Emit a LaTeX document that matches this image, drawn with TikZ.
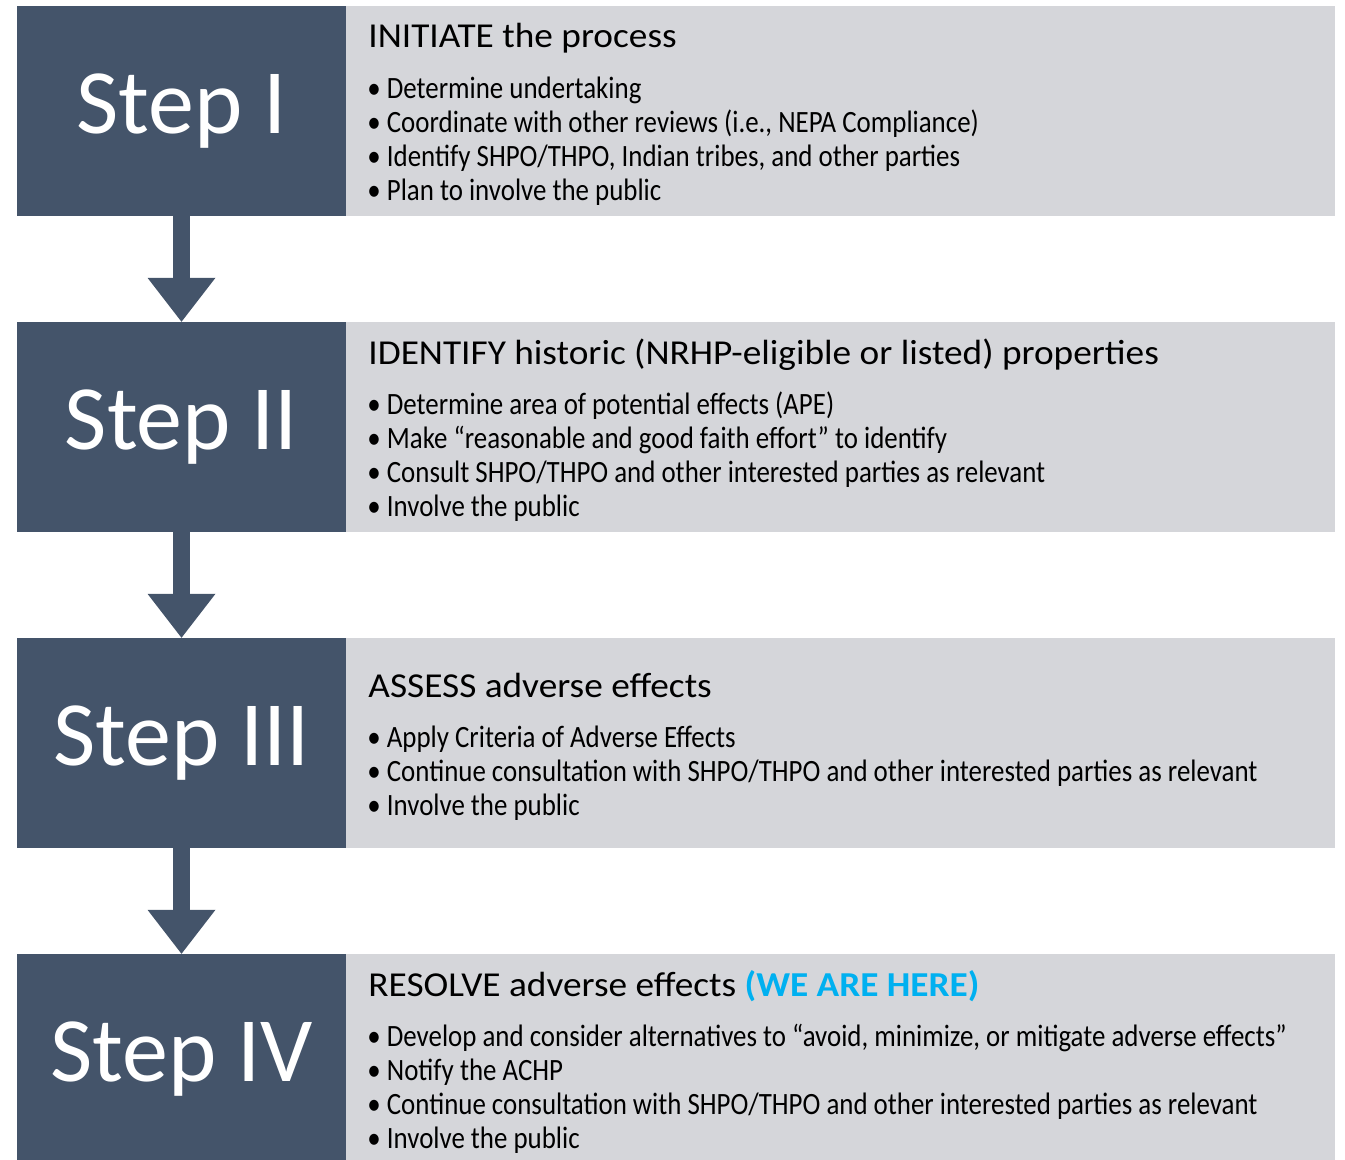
\documentclass[tikz,border=0pt]{standalone}
\usepackage{fontspec}
\setmainfont{Carlito}
\newfontfamily\titlefont[FakeStretch=1.066]{Carlito}
\newfontfamily\itemfont[FakeStretch=0.868]{Carlito}
\usetikzlibrary{positioning,arrows.meta}

\definecolor{stepblue}{HTML}{44546A}
\definecolor{infogray}{HTML}{D5D6DA}
\definecolor{herecyan}{HTML}{00B0F0}

\begin{document}
\begin{tikzpicture}[x=1pt,y=1pt]
  \tikzstyle{stepbox}=[fill=stepblue, text=white, inner sep=0pt,
    minimum width=329pt, minimum height=210pt, font=\fontsize{92}{92}\selectfont]
  \tikzstyle{infobox}=[fill=infogray, inner sep=0pt,
    minimum width=989pt, minimum height=210pt]
  \tikzstyle{title}=[anchor=base west, inner sep=0pt, font=\titlefont\fontsize{35}{35}\selectfont]
  \tikzstyle{item}=[anchor=base west, inner sep=0pt, font=\itemfont\fontsize{31}{31}\selectfont]
  \tikzstyle{flow}=[stepblue, line width=17pt,
    -{Triangle[width=68pt,length=44pt,line width=0pt]}]
  \useasboundingbox (0,0) rectangle (1345,1160);

  % step boxes
  \node[stepbox] (step1) at (181.5,1049) {Step I};
  \node[stepbox] (step2) at (181.5,733) {Step II};
  \node[stepbox] (step3) at (181.5,417) {Step III};
  \node[stepbox] (step4) at (181.5,101) {Step IV};

  % info boxes
  \node[infobox, right=0pt of step1] (info1) {};
  \node[infobox, right=0pt of step2] (info2) {};
  \node[infobox, right=0pt of step3] (info3) {};
  \node[infobox, right=0pt of step4] (info4) {};

  % arrows
  \draw[flow] (step1) -- (step2);
  \draw[flow] (step2) -- (step3);
  \draw[flow] (step3) -- (step4);

  % texts
  \node[title] (title1) at ([shift={(22,-42)}]info1.north west) {INITIATE the process};
  \foreach \t [count=\i] in {Determine undertaking,
      Coordinate with other reviews (i.e.{,} NEPA Compliance),
      {Identify SHPO/THPO, Indian tribes, and other parties},
      Plan to involve the public}
    \node[item] (item1-\i) at ([shift={(21,-59-34*\i)}]info1.north west) {\textbullet\ \t};

  \node[title] (title2) at ([shift={(22,-43)}]info2.north west)
    {IDENTIFY historic (NRHP-eligible or listed) properties};
  \foreach \t [count=\i] in {Determine area of potential effects (APE),
      Make “reasonable and good faith effort” to identify,
      Consult SHPO/THPO and other interested parties as relevant,
      Involve the public}
    \node[item] (item2-\i) at ([shift={(21,-59-34*\i)}]info2.north west) {\textbullet\ \t};

  \node[title] (title3) at ([shift={(22,-60)}]info3.north west) {ASSESS adverse effects};
  \foreach \t [count=\i] in {Apply Criteria of Adverse Effects,
      Continue consultation with SHPO/THPO and other interested parties as relevant,
      Involve the public}
    \node[item] (item3-\i) at ([shift={(21,-76-34*\i)}]info3.north west) {\textbullet\ \t};

  \node[title] (title4) at ([shift={(22,-43)}]info4.north west)
    {RESOLVE adverse effects \textcolor{herecyan}{\bfseries(WE ARE HERE)}};
  \foreach \t [count=\i] in {{Develop and consider alternatives to “avoid, minimize, or mitigate adverse effects”},
      Notify the ACHP,
      Continue consultation with SHPO/THPO and other interested parties as relevant,
      Involve the public}
    \node[item] (item4-\i) at ([shift={(21,-59-34*\i)}]info4.north west) {\textbullet\ \t};
\end{tikzpicture}
\end{document}
